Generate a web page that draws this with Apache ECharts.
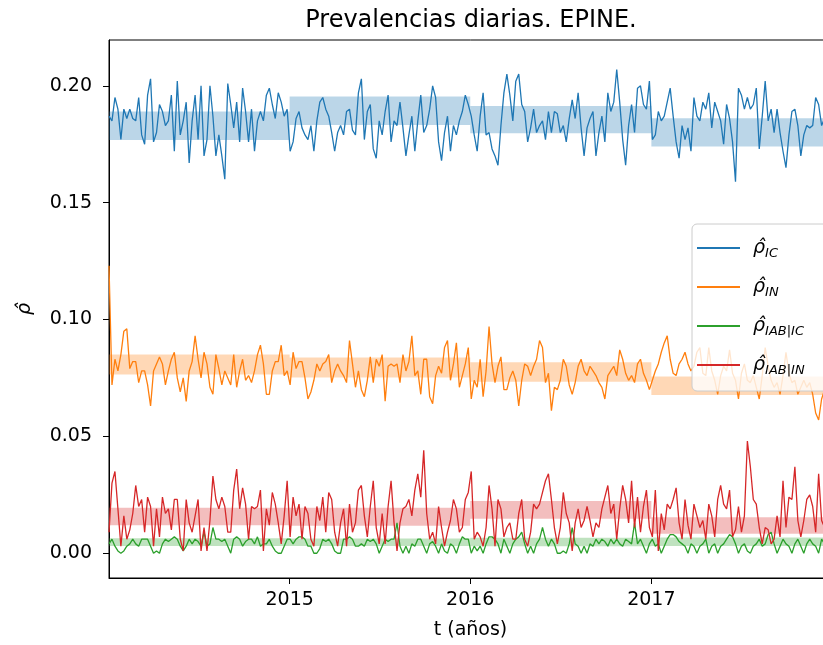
<!DOCTYPE html>
<html>
<head>
<meta charset="utf-8">
<title>Prevalencias diarias. EPINE.</title>
<script src="https://cdn.jsdelivr.net/npm/echarts@6/dist/echarts.min.js"></script>
<style>
  html, body { margin: 0; padding: 0; background: #fff; overflow: hidden; }
  #main { width: 832px; height: 645px; }
</style>
</head>
<body>
<div id="main"></div>
<script>
// muestras cada 6 dias desde el 1 de enero de 2014
var startDate = Date.UTC(2014, 0, 1);
var stepDays = 6;

// rho IC
var rhoIC = [
  0.187,0.185,0.195,0.190,0.177,0.190,0.186,0.190,0.186,0.185,
  0.195,0.179,0.175,0.196,0.203,0.176,0.180,0.192,0.189,0.183,
  0.185,0.196,0.172,0.202,0.179,0.185,0.193,0.167,0.185,0.196,
  0.177,0.200,0.170,0.177,0.200,0.187,0.170,0.179,0.170,0.160,
  0.201,0.192,0.182,0.193,0.176,0.199,0.189,0.176,0.190,0.172,
  0.185,0.189,0.185,0.196,0.199,0.192,0.186,0.197,0.193,0.187,
  0.190,0.172,0.176,0.186,0.189,0.182,0.179,0.177,0.183,0.172,
  0.185,0.193,0.195,0.190,0.187,0.180,0.172,0.180,0.183,0.179,
  0.189,
  0.190,0.181,0.179,0.197,0.203,0.177,0.189,0.192,0.173,0.169,
  0.185,0.179,0.189,0.196,0.176,0.185,0.183,0.193,0.182,0.170,
  0.179,0.187,0.172,0.185,0.196,0.180,0.183,0.190,0.200,0.195,
  0.176,0.168,0.180,0.187,0.172,0.183,0.179,0.185,0.189,0.196,
  0.192,0.187,0.179,0.172,0.187,0.197,0.179,0.180,0.173,0.170,
  0.166,0.183,0.197,0.205,0.196,0.185,0.202,0.205,0.192,0.189,
  0.176,0.182,0.190,0.180,0.183,0.185,0.177,0.189,0.180,0.189,
  0.188,0.180,0.183,0.176,0.186,0.194,0.186,0.197,0.182,0.170,
  0.182,0.186,0.189,0.170,0.180,0.187,0.176,0.197,0.189,0.193,
  0.207,0.193,0.177,0.166,0.183,0.192,0.180,0.199,0.200,0.192,
  0.190,0.202,0.177,0.179,0.189,0.185,0.187,0.193,0.199,0.187,
  0.176,0.169,0.183,0.177,0.182,0.172,0.195,0.187,0.185,0.193,
  0.190,0.197,0.182,0.193,0.189,0.185,0.175,0.192,0.186,0.176,
  0.159,0.199,0.196,0.190,0.195,0.190,0.192,0.199,0.173,0.187,
  0.202,0.185,0.190,0.180,0.190,0.180,0.172,0.165,0.179,0.189,
  0.190,0.183,0.170,0.179,0.183,0.182,0.183,0.195,0.192,0.183,
  0.186,0.187,0.187
];

// rho IN
var rhoIN = [
  0.123,0.072,0.083,0.078,0.085,0.095,0.096,0.079,0.082,0.082,
  0.073,0.078,0.078,0.072,0.063,0.078,0.081,0.084,0.081,0.072,
  0.078,0.083,0.086,0.075,0.069,0.075,0.065,0.078,0.082,0.093,
  0.083,0.075,0.086,0.081,0.071,0.068,0.085,0.079,0.072,0.078,
  0.075,0.072,0.085,0.071,0.078,0.083,0.074,0.076,0.073,0.078,
  0.085,0.089,0.081,0.068,0.068,0.078,0.082,0.082,0.089,0.076,
  0.078,0.072,0.086,0.079,0.082,0.082,0.075,0.066,0.069,0.074,
  0.081,0.078,0.081,0.082,0.085,0.073,0.078,0.081,0.078,0.076,
  0.073,
  0.091,0.081,0.071,0.078,0.070,0.067,0.074,0.084,0.073,0.083,
  0.080,0.085,0.065,0.080,0.081,0.080,0.081,0.073,0.085,0.078,
  0.082,0.093,0.076,0.078,0.068,0.083,0.083,0.067,0.064,0.076,
  0.080,0.077,0.088,0.091,0.074,0.081,0.090,0.071,0.076,0.081,
  0.088,0.066,0.074,0.071,0.083,0.067,0.078,0.097,0.081,0.073,
  0.080,0.084,0.070,0.070,0.075,0.078,0.074,0.063,0.074,0.081,
  0.080,0.076,0.080,0.083,0.091,0.088,0.073,0.077,0.061,0.071,
  0.070,0.074,0.083,0.080,0.072,0.068,0.073,0.080,0.083,0.078,
  0.076,0.080,0.078,0.076,0.073,0.071,0.066,0.076,0.078,0.080,
  0.076,0.087,0.083,0.077,0.074,0.076,0.073,0.081,0.083,0.077,
  0.074,0.070,0.074,0.078,0.081,0.086,0.090,0.093,0.083,0.077,
  0.076,0.081,0.083,0.086,0.081,0.078,0.080,0.086,0.088,0.077,
  0.076,0.088,0.078,0.074,0.068,0.076,0.080,0.078,0.087,0.077,
  0.074,0.066,0.077,0.081,0.074,0.073,0.076,0.071,0.066,0.076,
  0.088,0.080,0.074,0.071,0.073,0.068,0.076,0.086,0.077,0.073,
  0.074,0.068,0.071,0.074,0.071,0.073,0.068,0.060,0.057,0.066,
  0.070,0.072,0.071
];

// rho IAB|IC
var rhoIABIC = [
  0.004,0.006,0.003,0.001,0.000,0.001,0.003,0.004,0.006,0.004,
  0.003,0.006,0.006,0.006,0.003,0.000,0.001,0.000,0.004,0.006,
  0.005,0.006,0.007,0.006,0.003,0.001,0.003,0.006,0.004,0.006,
  0.005,0.003,0.009,0.003,0.004,0.011,0.006,0.006,0.005,0.006,
  0.003,0.000,0.006,0.007,0.006,0.003,0.005,0.006,0.006,0.004,
  0.007,0.003,0.004,0.004,0.006,0.003,0.001,0.000,0.000,0.003,
  0.006,0.006,0.004,0.006,0.007,0.007,0.006,0.003,0.003,0.000,
  0.000,0.002,0.006,0.005,0.006,0.004,0.001,0.000,0.000,0.006,
  0.006,0.007,0.006,0.003,0.003,0.004,0.003,0.006,0.005,0.006,
  0.004,0.000,0.003,0.006,0.005,0.006,0.006,0.013,0.003,0.000,
  0.003,0.000,0.004,0.003,0.006,
  0.006,0.003,0.000,0.004,0.005,0.003,0.000,0.004,0.001,0.000,
  0.004,0.003,0.000,0.004,0.007,0.006,0.006,0.000,0.003,0.001,
  0.003,0.000,0.004,0.007,0.007,0.006,0.004,0.000,0.006,0.003,
  0.000,0.004,0.006,0.007,0.009,0.004,0.000,0.003,0.000,0.004,
  0.006,0.011,0.006,0.003,0.006,0.004,0.000,0.000,0.001,0.000,
  0.004,0.011,0.004,0.003,0.000,0.003,0.000,0.004,0.003,0.006,
  0.004,0.006,0.005,0.003,0.006,0.004,0.006,0.004,0.003,0.006,
  0.005,0.004,0.013,0.004,0.006,0.003,0.000,0.004,0.006,0.003,
  0.004,0.000,0.003,0.006,0.008,0.008,0.007,0.005,0.004,0.003,
  0.000,0.004,0.003,0.000,0.003,0.004,0.006,0.000,0.003,0.004,
  0.000,0.003,0.004,0.006,0.008,0.007,0.004,0.000,0.003,0.004,
  0.001,0.000,0.003,0.004,0.006,0.003,0.004,0.008,0.009,0.004,
  0.000,0.003,0.006,0.004,0.003,0.000,0.004,0.006,0.003,0.000,
  0.004,0.006,0.004,0.003,0.000,0.006,0.004,0.003,0.004
];

// rho IAB|IN
var rhoIABIN = [
  0.009,0.030,0.035,0.019,0.003,0.016,0.006,0.010,0.017,0.029,
  0.020,0.023,0.009,0.024,0.020,0.003,0.019,0.007,0.024,0.017,
  0.019,0.010,0.023,0.023,0.006,0.001,0.023,0.013,0.009,0.016,
  0.023,0.001,0.011,0.001,0.014,0.033,0.023,0.019,0.024,0.020,
  0.009,0.009,0.027,0.036,0.019,0.028,0.021,0.006,0.020,0.019,
  0.020,0.027,0.001,0.019,0.012,0.026,0.021,0.013,0.004,0.016,
  0.031,0.007,0.024,0.016,0.021,0.006,0.020,0.017,0.006,0.003,
  0.020,0.014,0.024,0.009,0.026,0.023,0.009,0.003,0.013,0.019,
  0.003,0.021,0.009,0.013,0.027,0.029,0.016,0.007,0.020,0.031,
  0.011,0.004,0.017,0.004,0.020,0.031,0.013,0.001,0.013,0.019,
  0.020,0.023,0.016,0.027,0.034,
  0.024,0.044,0.017,0.006,0.009,0.004,0.020,0.011,0.003,0.009,
  0.014,0.023,0.019,0.009,0.011,0.023,0.026,0.035,0.006,0.009,
  0.007,0.003,0.011,0.029,0.019,0.003,0.023,0.019,0.007,0.011,
  0.013,0.006,0.006,0.017,0.023,0.006,0.003,0.009,0.021,0.019,
  0.021,0.026,0.031,0.034,0.023,0.011,0.004,0.011,0.026,0.017,
  0.013,0.001,0.013,0.019,0.011,0.014,0.020,0.014,0.007,0.013,
  0.011,0.019,0.024,0.029,0.017,0.021,0.006,0.019,0.029,0.023,
  0.013,0.031,0.011,0.024,0.009,0.020,0.027,0.011,0.007,0.027,
  0.001,0.017,0.010,0.021,0.019,0.023,0.028,0.013,0.006,0.023,
  0.012,0.006,0.021,0.016,0.011,0.014,0.006,0.021,0.016,0.007,
  0.023,0.029,0.021,0.019,0.027,0.007,0.010,0.020,0.009,0.016,
  0.048,0.037,0.023,0.021,0.011,0.004,0.011,0.010,0.004,0.006,
  0.016,0.007,0.031,0.011,0.024,0.023,0.037,0.014,0.007,0.014,
  0.023,0.025,0.020,0.009,0.034,0.014,0.011,0.019,0.016
];

// bandas anuales (media +- error) por año
var bandYears = [2014, 2015, 2016, 2017];
var bandIC_lo = [0.1768, 0.1832, 0.1797, 0.1740];
var bandIC_hi = [0.1890, 0.1954, 0.1914, 0.1861];
var bandIN_lo = [0.0765, 0.0752, 0.0734, 0.0677];
var bandIN_hi = [0.0850, 0.0837, 0.0817, 0.0756];
var bandIABIC_lo = [0.0031, 0.0031, 0.0030, 0.0031];
var bandIABIC_hi = [0.0064, 0.0063, 0.0066, 0.0067];
var bandIABIN_lo = [0.0120, 0.0118, 0.0147, 0.0083];
var bandIABIN_hi = [0.0195, 0.0195, 0.0224, 0.0154];

var yTicks = [0.00, 0.05, 0.10, 0.15, 0.20];
var xTickYears = [2015, 2016, 2017];

var names = ['IC', 'IN', 'IAB|IC', 'IAB|IN'];
var colors = ['#1f77b4', '#ff7f0e', '#2ca02c', '#d62728'];
var bandColors = ['rgba(31,119,180,0.3)', 'rgba(255,127,14,0.3)', 'rgba(44,160,44,0.3)', 'rgba(214,39,40,0.3)'];

var DAY = 86400000;
var dates = rhoIC.map(function (v, i) { return startDate + i * stepDays * DAY; });
var xTickValues = xTickYears.map(function (y) { return Date.UTC(y, 0, 1); });

function pairs(vals) {
  return vals.map(function (v, i) { return [dates[i], v]; });
}

function bandSeries(lo, hi, color) {
  return {
    type: 'line',
    data: [],
    silent: true,
    z: 1,
    markArea: {
      silent: true,
      itemStyle: { color: color },
      data: bandYears.map(function (y, k) {
        return [
          { xAxis: Date.UTC(y, 0, 1), yAxis: lo[k] },
          { xAxis: Date.UTC(y + 1, 0, 1), yAxis: hi[k] }
        ];
      })
    }
  };
}

function lineSeries(name, vals, color) {
  return {
    name: name,
    type: 'line',
    data: pairs(vals),
    showSymbol: false,
    symbol: 'none',
    z: 2,
    lineStyle: { color: color, width: 1.3 },
    itemStyle: { color: color },
    emphasis: { disabled: true }
  };
}

var font = 'DejaVu Sans';
var hatRho = '\u03c1\u0302';

var option = {
  animation: false,
  backgroundColor: '#fff',
  title: {
    text: 'Prevalencias diarias. EPINE.',
    left: 466,
    top: 4,
    textAlign: 'center',
    textStyle: { fontFamily: font, fontSize: 24, fontWeight: 'normal', color: '#000' }
  },
  grid: {
    left: 109, top: 40, bottom: 67, right: 0,
    show: true, borderColor: '#000', borderWidth: 1, backgroundColor: 'transparent'
  },
  legend: {
    data: names,
    orient: 'vertical',
    left: 692,
    top: 224,
    padding: [12, 40, 14, 5],
    itemWidth: 43,
    itemHeight: 2,
    itemGap: 15,
    icon: 'rect',
    backgroundColor: 'rgba(255,255,255,0.8)',
    borderColor: '#cccccc',
    borderWidth: 1,
    borderRadius: 5,
    formatter: function (n) { return '{r|' + hatRho + '}{s|' + n + '}'; },
    textStyle: {
      padding: [0, 0, 0, 8],
      rich: {
        r: { fontFamily: font, fontStyle: 'italic', fontSize: 19, lineHeight: 28, color: '#000' },
        s: { fontFamily: font, fontStyle: 'italic', fontSize: 13, lineHeight: 28, color: '#000', padding: [11, 0, 0, 0] }
      }
    }
  },
  xAxis: {
    type: 'value',
    min: Date.UTC(2014, 0, 1),
    max: Date.UTC(2018, 0, 1),
    name: 't (años)',
    nameLocation: 'middle',
    nameGap: 43,
    nameTextStyle: { fontFamily: font, fontSize: 19, color: '#000' },
    axisLine: { show: true, onZero: false, lineStyle: { color: '#000', width: 1 } },
    axisTick: { show: true, length: 6, lineStyle: { color: '#000' }, customValues: xTickValues },
    axisLabel: {
      margin: 13,
      fontFamily: font, fontSize: 19, color: '#000',
      customValues: xTickValues,
      formatter: function (v) { return String(new Date(v).getUTCFullYear()); }
    },
    splitLine: { show: false }
  },
  yAxis: {
    type: 'value',
    min: -0.0106,
    max: 0.2196,
    name: hatRho,
    nameLocation: 'middle',
    nameRotate: 90,
    nameGap: 74,
    nameTextStyle: { fontFamily: font, fontStyle: 'italic', fontSize: 19, color: '#000' },
    axisLine: { show: true, onZero: false, lineStyle: { color: '#000', width: 1 } },
    axisTick: { show: true, length: 6, lineStyle: { color: '#000' }, customValues: yTicks },
    axisLabel: {
      margin: 17,
      fontFamily: font, fontSize: 19, color: '#000',
      customValues: yTicks,
      formatter: function (v) { return v.toFixed(2); }
    },
    splitLine: { show: false }
  },
  series: [
    bandSeries(bandIC_lo, bandIC_hi, bandColors[0]),
    bandSeries(bandIN_lo, bandIN_hi, bandColors[1]),
    bandSeries(bandIABIC_lo, bandIABIC_hi, bandColors[2]),
    bandSeries(bandIABIN_lo, bandIABIN_hi, bandColors[3]),
    lineSeries(names[0], rhoIC, colors[0]),
    lineSeries(names[1], rhoIN, colors[1]),
    lineSeries(names[2], rhoIABIC, colors[2]),
    lineSeries(names[3], rhoIABIN, colors[3])
  ]
};

var chart = echarts.init(document.getElementById('main'));
chart.setOption(option);
</script>
</body>
</html>
